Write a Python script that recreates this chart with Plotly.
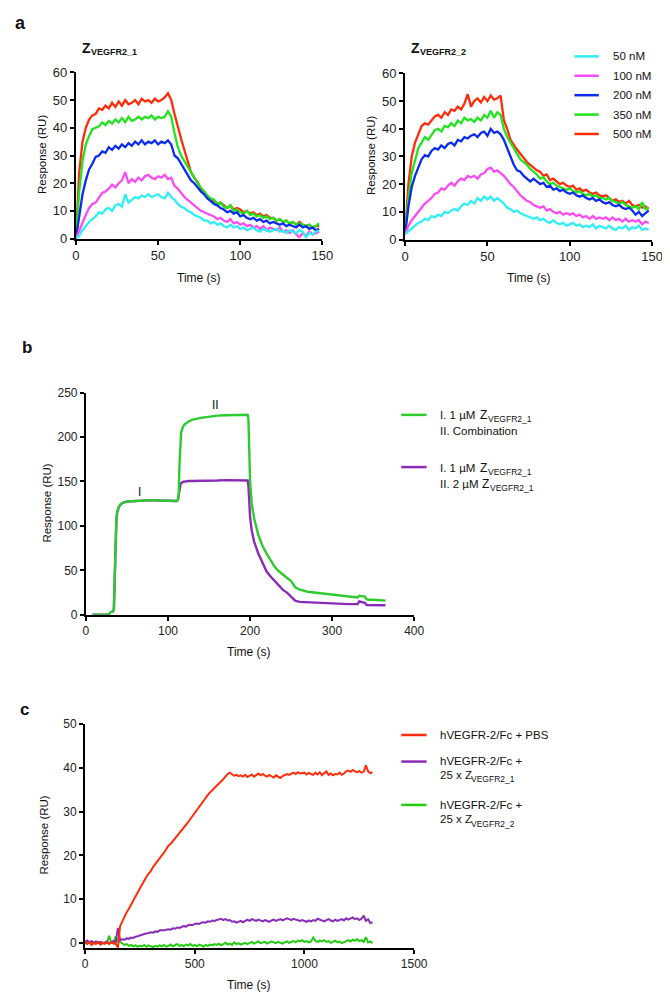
import plotly.graph_objects as go

# ---------------- data ----------------
# Panel a: time grid (s)
A_TIME = list(range(0, 150, 2))
A_SERIES_NAMES = ["50 nM", "100 nM", "200 nM", "350 nM", "500 nM"]

# Z_VEGFR2_1
A1_500 = [0, 24, 35, 40, 43, 44.5, 45, 47, 46.5, 48,
          47, 49, 47.5, 49.5, 48, 50, 48.5, 49, 50, 48.5,
          50.5, 49.5, 50, 49, 50.5, 49.5, 50, 51, 52.5, 50,
          45, 40, 36, 32, 28, 24, 22, 20.5, 18, 17,
          15, 14, 13.5, 12.5, 13, 12, 11, 12, 10.5, 11,
          10.5, 9.5, 10, 9, 9.5, 8.5, 9, 8, 8.5, 7.5,
          7.5, 6.5, 7, 6, 6.5, 5.5, 6, 5, 6, 5,
          4.5, 5, 4, 4.5, 4.5]
A1_350 = [0, 17, 28, 34, 37, 39.5, 40, 40.5, 42, 41,
          42.5, 41.5, 43, 42, 43.5, 42, 44, 42.5, 43, 44,
          43, 44, 43.5, 44.5, 43, 44, 43.5, 44, 46, 44,
          38, 33, 30, 28, 26, 23.5, 22, 20, 18.5, 17,
          15.5, 14.5, 14, 12.5, 13, 11.5, 11, 12, 10, 10.5,
          9.5, 9, 10, 8.5, 9, 8, 8.5, 7.5, 8, 7,
          7.5, 6.5, 7, 6, 6.5, 5.5, 6, 5, 5.5, 5,
          4.5, 5, 4, 4.5, 5.5]
A1_200 = [0, 9, 16, 21, 25, 27, 29.5, 30, 31.5, 31,
          33, 32, 33.5, 32.5, 34, 33, 34.5, 33.5, 35, 34,
          35.5, 34, 35, 34.5, 35.5, 34, 35, 34.5, 35.5, 34,
          30, 29, 27, 25, 23, 21, 20, 18.5, 17, 16,
          14.5, 13.5, 12.5, 12, 11, 10.5, 9.5, 10, 9, 9.5,
          8, 8.5, 7.5, 7, 7.5, 6.5, 7, 6, 6.5, 5.5,
          6, 5.5, 5, 5.5, 4.5, 5, 4.5, 4, 5, 4,
          4.5, 3.5, 4, 3, 3.5]
A1_100 = [0, 3, 6, 8.5, 11, 12.5, 13, 15, 16.5, 17,
          18, 19.5, 18.5, 20, 21, 24, 20, 21.5, 20.5, 22,
          21, 22.5, 23, 22, 21.5, 22.5, 22, 23, 21.5, 22,
          19, 18, 16.5, 15, 14, 13, 12, 11, 10, 9.5,
          9, 8.5, 8, 7, 7.5, 6.5, 6, 7, 5.5, 6,
          5, 5.5, 4.5, 5, 4, 4.5, 3.5, 4.5, 3, 4,
          3.5, 3, 4, 2.5, 3, 2, 3, 1.5, 0.5, 2,
          1, 2.5, 1.5, 2, 2.5]
A1_50 = [0, 1, 3, 4.5, 6, 7, 8, 9.5, 9, 10.5,
         11, 10, 12, 12.5, 11.5, 16, 13, 14, 15, 14.5,
         15.5, 15, 16, 15, 15.5, 16, 15, 14.5, 16.5, 15,
         14, 12.5, 11.5, 11, 10, 9.5, 8.5, 8, 7.5, 6.5,
         6.5, 5.5, 6, 5, 5.5, 4.5, 4, 5, 4, 4.5,
         3.5, 4, 3, 3.5, 4, 3, 2.5, 3.5, 3, 2.5,
         3, 3.5, 2.5, 3, 2, 3, 2.5, 2, 3, 2.5,
         0.5, 2, 1.5, 2.5, 3]

# Z_VEGFR2_2
A2_500 = [3, 20, 30, 35, 38, 41, 42, 41.5, 43, 44.5,
          45, 44, 46, 45, 47, 46.5, 48, 47, 49, 52.5,
          48, 50, 51, 49.5, 51.5, 50, 52, 50.5, 51, 52,
          43, 40, 36, 34, 32.5, 31, 29.5, 28, 27, 26,
          25, 24.5, 23, 23.5, 21.5, 22, 21, 20, 20.5, 19.5,
          19, 19.5, 18, 18.5, 17.5, 18, 17, 16.5, 17, 16,
          15.5, 16, 15, 14, 14.5, 13.5, 14, 13, 14, 12.5,
          12, 12.5, 11.5, 12, 11]
A2_350 = [3, 15, 24, 29, 33, 35, 37, 36, 38, 39.5,
          40, 39, 41, 40.5, 42, 41, 43, 42, 44, 43,
          43.5, 42.5, 44, 43, 45, 44, 46.5, 44, 46, 45,
          40, 37, 35, 33, 31, 29, 28, 27, 25.5, 24.5,
          23.5, 22, 22.5, 21, 20, 20.5, 19.5, 19, 18.5, 18,
          18.5, 17.5, 17, 17.5, 16.5, 16, 16.5, 15.5, 16, 15,
          15, 14.5, 15, 14, 13.5, 13, 13.5, 12.5, 12, 11.5,
          12, 11, 13.5, 11, 11.5]
A2_200 = [2, 12, 19, 23, 26, 29, 30.5, 30, 32, 33,
          32.5, 34, 33, 34.5, 35, 34, 36, 35.5, 37, 36.5,
          37.5, 38, 37, 38.5, 39, 37.5, 40, 38.5, 39, 38,
          36, 33, 30, 27, 25, 24.5, 23, 22, 21, 22,
          21, 20, 20.5, 19, 19.5, 18, 18.5, 17.5, 18, 17,
          16.5, 17, 16, 15.5, 16, 15, 14.5, 15, 14, 14.5,
          13.5, 13, 13.5, 12.5, 12, 12.5, 11.5, 11, 11.5, 10.5,
          9, 10, 8.5, 9.5, 10.5]
A2_100 = [2, 5, 7, 8.5, 10, 11.5, 13, 14, 15, 16.5,
          17, 18.5, 18, 19.5, 20.5, 19.5, 21, 22, 21.5, 23,
          22.5, 23, 22, 23.5, 24, 25.5, 26, 24.5, 25, 24,
          23, 21.5, 20, 19, 17.5, 16, 15, 14, 13.5, 12.5,
          12, 11.5, 12, 10.5, 11, 10, 9.5, 10, 9, 9.5,
          9, 9.5, 8.5, 9, 8, 8.5, 7.5, 8.5, 7.5, 8,
          7.5, 8, 7, 8, 7, 7.5, 6.5, 7.5, 6.5, 7,
          6.5, 7, 5.5, 6.5, 6]
A2_50 = [2, 3, 4, 5, 6, 6.5, 7.5, 7, 8.5, 8,
         9, 8.5, 10, 9.5, 10.5, 11, 10.5, 12, 13, 12.5,
         14, 13, 15, 14, 15.5, 14.5, 15.5, 14, 15, 14,
         13, 11.5, 11, 10, 10.5, 9.5, 9, 8.5, 8, 7.5,
         8, 7, 7.5, 6.5, 6, 7, 6, 5.5, 6, 5,
         5.5, 6, 5, 5.5, 4.5, 5, 4.5, 5.5, 4, 5,
         4.5, 4, 5, 4, 3.5, 4.5, 4, 5, 3.5, 4.5,
         4, 5, 3.5, 4, 3.5]

# Panel b
B_TIME = [8, 20, 28, 30, 32, 33, 34, 35, 36, 37,
          38, 40, 42, 45, 50, 60, 70, 80, 90, 100,
          110, 112, 113, 114, 115, 116, 118, 120, 125, 130,
          140, 150, 160, 170, 180, 190, 196, 197, 198, 199,
          200, 202, 205, 210, 215, 220, 225, 230, 235, 240,
          245, 250, 255, 260, 270, 280, 290, 300, 310, 320,
          330, 331, 333, 336, 340, 342, 344, 350, 360, 365]
B_COMBINATION = [0, 0, 0.5, 3, 4, 4, 6, 40, 85, 105,
                 115, 121, 124, 126, 127.5, 128, 129, 129, 128.5, 128,
                 128, 129, 135, 170, 195, 205, 211, 214, 217.5, 219.5,
                 221.5, 223, 224, 224.5, 225, 225, 225, 225, 220, 190,
                 150, 125, 108, 90, 78, 69, 61, 54, 49, 45,
                 41, 38, 31, 28.5, 26, 25, 23.5, 22.5, 21.5, 20.5,
                 19.5, 19.5, 21.5, 21, 20.5, 17.5, 17, 17, 16.5, 16]
B_DOUBLE = [0, 0, 0.5, 3, 4, 4, 6, 40, 85, 105,
            115, 121, 124, 126, 127.5, 128, 129, 129, 128.5, 128,
            128, 129, 133, 140, 146, 148, 149.5, 150, 150.5, 150.5,
            150.5, 151, 151, 151.5, 151.5, 151.5, 151.5, 151, 145, 128,
            110, 95, 82, 69, 58, 49, 43, 38, 33, 28,
            25, 21, 16, 14.5, 14, 13.5, 13.5, 13, 12.5, 12,
            12, 12, 15, 14, 13.5, 11, 11, 11, 11, 10.7]

# Panel c
C_TIME = list(range(0, 1320, 10))
C_PBS = [0.3, -0.2, 0.1, -0.5, 0.0, -0.3, 0.2, -0.4, 0.0, -0.2,
         0.1, -0.3, 0.2, -0.1, -0.2, -1.1, 3.8, 5.0, 6.0, 7.0,
         7.8, 8.8, 9.8, 10.6, 11.5, 12.4, 13.4, 14.3, 15.1, 15.8,
         16.4, 17.3, 18.0, 18.6, 19.5, 20.0, 20.6, 21.5, 22.2, 22.6,
         23.2, 23.9, 24.5, 25.0, 25.6, 26.3, 27.0, 27.6, 28.3, 29.0,
         29.8, 30.5, 31.1, 31.8, 32.6, 33.2, 33.8, 34.4, 35.0, 35.4,
         35.9, 36.4, 36.7, 37.4, 38.0, 38.6, 38.9, 38.5, 38.2, 38.4,
         38.1, 38.3, 38.0, 38.4, 37.9, 38.2, 38.5, 38.0, 38.4, 38.7,
         38.3, 38.6, 38.2, 38.0, 38.4, 38.1, 37.8, 38.3, 37.9, 37.7,
         38.1, 38.3, 38.6, 38.4, 38.7, 38.9, 38.6, 39.0, 38.7, 38.8,
         38.9, 38.5, 38.9, 38.6, 38.4, 38.9, 38.5, 39.0, 38.3, 38.8,
         39.2, 38.4, 38.7, 38.3, 38.6, 38.5, 38.9, 38.4, 38.7, 39.2,
         39.4, 39.1, 39.5, 39.2, 39.0, 39.3, 38.9, 39.1, 40.6, 39.2,
         38.8, 39.0]
C_Z1 = [0.2, 0.5, 0.1, 0.4, -0.1, 0.3, 0.0, 0.2, -0.2, 0.1,
        0.3, -0.1, 0.2, 0.4, 0.0, 3.4, 0.6, 0.8, 0.7, 1.0,
        0.9, 1.2, 1.1, 1.4, 1.5, 1.7, 1.8, 2.0, 2.1, 2.3,
        2.4, 2.3, 2.6, 2.5, 2.8, 2.9, 2.8, 3.0, 3.1, 3.0,
        3.3, 3.2, 3.5, 3.4, 3.6, 3.8, 3.7, 4.0, 4.1, 4.0,
        4.3, 4.4, 4.3, 4.6, 4.7, 4.6, 4.9, 4.8, 5.1, 5.0,
        5.2, 5.3, 5.5, 5.2, 5.4, 5.1, 5.2, 4.8, 4.9, 4.6,
        4.8, 5.0, 4.7, 5.1, 5.3, 5.0, 5.4, 5.2, 5.0, 5.3,
        5.1, 4.9, 5.2, 5.0, 4.8, 5.1, 5.3, 5.0, 5.2, 5.4,
        5.1, 5.3, 5.6, 5.4, 5.2, 5.5, 5.3, 5.1, 5.0, 5.2,
        5.0, 4.8, 5.1, 4.9, 5.2, 5.0, 5.5, 5.3, 5.1, 4.9,
        5.2, 5.4, 5.1, 4.9, 5.3, 5.0, 5.2, 5.4, 5.1, 5.6,
        5.3, 5.5, 5.8, 5.4, 5.6, 5.2, 5.5, 6.2, 5.0, 5.4,
        4.5, 4.7]
C_Z2 = [0.0, -0.3, 0.1, -0.2, 0.2, -0.1, 0.0, -0.3, 0.1, -0.2,
        0.0, 1.6, 0.0, -0.2, 1.5, 0.3, 0.2, -0.2, -0.5, -0.3,
        -0.7, -0.5, -0.8, -0.6, -0.9, -0.7, -0.8, -0.5, -0.9, -0.6,
        -0.8, -1.0, -0.7, -0.9, -0.6, -0.8, -0.5, -0.9, -0.7, -0.4,
        -0.8, -0.6, -0.3, -0.7, -0.5, -0.8, -0.4, -0.6, -0.3, -0.7,
        -0.5, -0.8, -0.4, -0.6, -0.9, -0.5, -0.7, -0.4, -0.6, -0.3,
        -0.5, -0.2, -0.6, -0.3, 0.0, -0.4, -0.2, -0.5, 0.1, -0.3,
        -0.1, -0.4, -0.2, 0.0, -0.3, -0.1, 0.2, -0.2, 0.0, 0.3,
        -0.1, 0.1, 0.2, -0.2, 0.0, 0.3, 0.1, -0.1, 0.2, 0.0,
        -0.2, 0.1, 0.3, 0.0, 0.2, 0.4, 0.1, 0.5, 0.3, 0.6,
        0.2, 0.4, 0.1, 0.3, 1.2, 0.4, 0.2, 0.5, 0.3, 0.6,
        0.2, 0.4, 0.0, 0.3, 0.5, 0.1, 0.3, -0.1, 0.2, 0.4,
        0.6, 0.3, 0.7, 0.5, 0.8, 0.4, 0.6, 0.2, 1.3, 0.1,
        0.3, -0.1]

# ---------------- layout helpers ----------------
W, H = 670, 995
FONT = "Liberation Sans, Arial, Helvetica, sans-serif"


def fx(p):
    return p / W


def fy(p):
    return 1 - p / H


COL = {"50 nM": "#2FEFF5", "100 nM": "#FA4CF5", "200 nM": "#0B2CF0",
       "350 nM": "#22E41E", "500 nM": "#FF2B0A"}
B_GREEN = "#2DCB2D"
PURPLE = "#8A2CB8"
C_RED = "#FF2D0A"
C_GREEN = "#22CC11"

fig = go.Figure()

a1 = {"50 nM": A1_50, "100 nM": A1_100, "200 nM": A1_200, "350 nM": A1_350, "500 nM": A1_500}
a2 = {"50 nM": A2_50, "100 nM": A2_100, "200 nM": A2_200, "350 nM": A2_350, "500 nM": A2_500}
for name in reversed(A_SERIES_NAMES):
    fig.add_trace(go.Scatter(x=A_TIME, y=a1[name], mode="lines", name=name,
                             line=dict(color=COL[name], width=2.3), xaxis="x", yaxis="y",
                             showlegend=False))
for name in reversed(A_SERIES_NAMES):
    fig.add_trace(go.Scatter(x=A_TIME, y=a2[name], mode="lines", name=name,
                             line=dict(color=COL[name], width=2.3), xaxis="x2", yaxis="y2",
                             showlegend=False))

fig.add_trace(go.Scatter(x=B_TIME, y=B_DOUBLE, mode="lines", line=dict(color=PURPLE, width=2.4),
                         xaxis="x3", yaxis="y3", showlegend=False))
fig.add_trace(go.Scatter(x=B_TIME, y=B_COMBINATION, mode="lines", line=dict(color=B_GREEN, width=2.4),
                         xaxis="x3", yaxis="y3", showlegend=False))

fig.add_trace(go.Scatter(x=C_TIME, y=C_Z2, mode="lines", line=dict(color=C_GREEN, width=2),
                         xaxis="x4", yaxis="y4", showlegend=False))
fig.add_trace(go.Scatter(x=C_TIME, y=C_Z1, mode="lines", line=dict(color=PURPLE, width=2),
                         xaxis="x4", yaxis="y4", showlegend=False))
fig.add_trace(go.Scatter(x=C_TIME, y=C_PBS, mode="lines", line=dict(color=C_RED, width=2),
                         xaxis="x4", yaxis="y4", showlegend=False))


def axis(domain, rng, tickvals, anchor, fs=12):
    return dict(domain=domain, range=rng, tickvals=tickvals, anchor=anchor,
                showline=True, linecolor="black", linewidth=2, mirror=False,
                ticks="outside", ticklen=4, tickwidth=1.5, tickcolor="black",
                showgrid=False, zeroline=False, fixedrange=True,
                tickfont=dict(family=FONT, size=fs, color="#222"))


fig.update_layout(
    width=W, height=H, margin=dict(l=0, r=0, t=0, b=0),
    paper_bgcolor="white", plot_bgcolor="white", showlegend=False,
    xaxis=axis([fx(65.7), fx(319)], [0, 150], [0, 50, 100, 150], "y", 13),
    yaxis=axis([fy(227), fy(58.3)], [0, 60], [0, 10, 20, 30, 40, 50, 60], "x", 13),
    xaxis2=axis([fx(404), fx(657.7)], [0, 150], [0, 50, 100, 150], "y2", 13),
    yaxis2=axis([fy(228), fy(59.3)], [0, 60], [0, 10, 20, 30, 40, 50, 60], "x2", 13),
    xaxis3=axis([fx(76), fx(413.3)], [0, 400], [0, 100, 200, 300, 400], "y3"),
    yaxis3=axis([fy(609), fy(383.3)], [0, 250], [0, 50, 100, 150, 200, 250], "x3"),
    xaxis4=axis([fx(75), fx(413.3)], [0, 1500], [0, 500, 1000, 1500], "y4"),
    yaxis4=axis([fy(947.3), fy(720)], [-1.2, 50], [0, 10, 20, 30, 40, 50], "x4"),
)

ann = []
shapes = []


def text(x, y, s, size=12, bold=False, angle=0, xanchor="center", yanchor="middle"):
    if bold:
        s = "<b>" + s + "</b>"
    ann.append(dict(x=fx(x), y=fy(y), xref="paper", yref="paper", text=s, showarrow=False,
                    font=dict(family=FONT, size=size, color="#111"), textangle=angle,
                    xanchor=xanchor, yanchor=yanchor))


def legline(x0, x1, y, color):
    shapes.append(dict(type="line", xref="paper", yref="paper", x0=fx(x0), x1=fx(x1),
                       y0=fy(y), y1=fy(y), line=dict(color=color, width=2.5)))


# panel letters
text(9, 8, "a", size=18, bold=True)
text(15, 338, "b", size=17, bold=True)
text(13, 705, "c", size=17, bold=True)

# panel a titles (Z with subscript drawn as two texts)
text(70, 33.5, "Z", size=14, bold=True, xanchor="left")
text(79, 37.5, "VEGFR2_1", size=9, bold=True, xanchor="left")
text(408.3, 33.5, "Z", size=14, bold=True, xanchor="left")
text(417.3, 37.5, "VEGFR2_2", size=9, bold=True, xanchor="left")

# axis titles
for xc, yc in [(31, 142), (369, 143), (35, 496), (33, 833)]:
    text(xc, yc, "Response (RU)", size=11.5, angle=-90)
for xc, yc in [(192, 267), (531, 267), (244, 647), (244, 985)]:
    text(xc, yc, "Time (s)", size=12)

# panel a legend
for i, name in enumerate(A_SERIES_NAMES):
    yy = 42 + i * 19.7
    legline(578, 603, yy, COL[name])
    text(616, yy, name, size=11.5, xanchor="left")

# panel b annotations
ann.append(dict(x=65, y=138, xref="x3", yref="y3", text="I", showarrow=False,
                font=dict(family=FONT, size=12, color="#111")))
ann.append(dict(x=158, y=236, xref="x3", yref="y3", text="II", showarrow=False,
                font=dict(family=FONT, size=12, color="#111")))

# panel b legend
legline(400, 426, 406, B_GREEN)
text(438, 406, "I. 1 µM", size=11.5, xanchor="left")
text(479, 406, "Z", size=12, xanchor="left")
text(487.5, 410, "VEGFR2_1", size=8.5, xanchor="left")
text(438, 422, "II. Combination", size=11.5, xanchor="left")
legline(400, 426, 459, PURPLE)
text(438, 460, "I. 1 µM", size=11.5, xanchor="left")
text(479, 460, "Z", size=12, xanchor="left")
text(487.5, 464, "VEGFR2_1", size=8.5, xanchor="left")
text(438, 476.5, "II. 2 µM", size=11.5, xanchor="left")
text(480.5, 476.5, "Z", size=12, xanchor="left")
text(489, 480.5, "VEGFR2_1", size=8.5, xanchor="left")

# panel c legend
legline(400, 426, 731, C_RED)
text(438, 731, "hVEGFR-2/Fc + PBS", size=11.5, xanchor="left")
legline(400, 426, 758, PURPLE)
text(438, 757.5, "hVEGFR-2/Fc +", size=11.5, xanchor="left")
text(438, 771.5, "25 x Z", size=11.5, xanchor="left")
text(469.5, 776, "VEGFR2_1", size=8.5, xanchor="left")
legline(400, 426, 802, C_GREEN)
text(438, 802, "hVEGFR-2/Fc +", size=11.5, xanchor="left")
text(438, 816.5, "25 x Z", size=11.5, xanchor="left")
text(469.5, 821, "VEGFR2_2", size=8.5, xanchor="left")

fig.update_layout(annotations=ann, shapes=shapes)

fig.write_html("out.html")
